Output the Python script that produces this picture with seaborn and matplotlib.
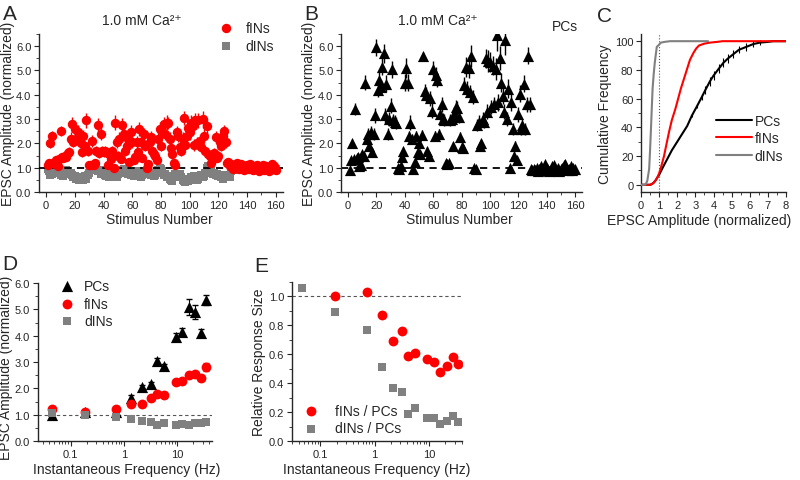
import matplotlib
matplotlib.use("Agg")
import matplotlib.pyplot as plt
import pandas as pd
import seaborn as sns
from matplotlib.ticker import MultipleLocator, LogLocator, NullFormatter

# ---------------- data ----------------
stim = list(range(1, 161))

fins_amp = [1.1, 1.2, 2.0, 2.3, 1.2, 1.15, 1.3, 1.05, 1.35, 2.5,
            1.45, 1.4, 1.5, 1.45, 1.6, 1.65, 2.2, 2.8, 2.05, 2.6,
            2.2, 2.45, 2.2, 2.0, 1.65, 2.3, 1.9, 2.95, 1.7, 1.1,
            1.1, 2.1, 1.1, 1.2, 1.7, 2.75, 1.6, 2.4, 1.7, 1.65,
            1.7, 1.65, 1.1, 1.55, 1.35, 1.7, 1.0, 2.85, 2.05, 1.5,
            2.2, 1.35, 2.75, 2.4, 1.7, 1.9, 2.2, 1.25, 2.45, 2.05,
            1.3, 1.45, 2.05, 1.65, 2.6, 2.05, 1.4, 2.4, 1.9, 1.0,
            1.15, 2.05, 2.25, 1.7, 1.55, 1.5, 1.3, 2.2, 2.6, 1.9,
            2.5, 2.8, 2.4, 2.85, 2.85, 2.2, 1.8, 1.55, 1.2, 1.1,
            2.45, 2.3, 1.85, 1.7, 2.2, 3.05, 1.95, 2.3, 2.65, 2.45,
            2.85, 2.7, 1.95, 2.95, 2.0, 2.95, 2.1, 1.85, 3.0, 2.3,
            1.7, 2.7, 1.55, 1.5, 1.2, 1.35, 1.6, 2.25, 1.4, 1.5,
            2.05, 1.9, 2.3, 2.5, 2.05, 1.2, 1.25, 1.05, 1.15, 0.95,
            1.1, 1.0, 1.2, 0.95, 1.05, 1.15, 1.0, 0.9, 1.05, 1.1,
            0.95, 1.15, 1.0, 0.9, 1.05, 0.95, 1.1, 0.85, 1.0, 0.95,
            1.1, 0.9, 1.05, 1.0, 0.85, 1.0, 1.15, 0.95, 1.05, 0.9]
fins_err = [0.1, 0.15, 0.2, 0.2, 0.15, 0.1, 0.15, 0.1, 0.15, 0.2,
            0.15, 0.15, 0.15, 0.15, 0.2, 0.2, 0.25, 0.3, 0.2, 0.25,
            0.25, 0.3, 0.25, 0.2, 0.2, 0.25, 0.2, 0.3, 0.2, 0.15,
            0.1, 0.25, 0.1, 0.15, 0.2, 0.3, 0.2, 0.25, 0.2, 0.2,
            0.2, 0.2, 0.1, 0.2, 0.15, 0.2, 0.1, 0.3, 0.25, 0.2,
            0.25, 0.15, 0.3, 0.25, 0.2, 0.2, 0.25, 0.15, 0.3, 0.25,
            0.15, 0.15, 0.25, 0.2, 0.3, 0.25, 0.15, 0.25, 0.2, 0.1,
            0.1, 0.2, 0.25, 0.2, 0.2, 0.2, 0.15, 0.25, 0.3, 0.2,
            0.25, 0.3, 0.25, 0.3, 0.25, 0.25, 0.2, 0.2, 0.15, 0.1,
            0.25, 0.25, 0.2, 0.2, 0.25, 0.3, 0.2, 0.3, 0.3, 0.3,
            0.3, 0.3, 0.25, 0.3, 0.25, 0.3, 0.25, 0.2, 0.35, 0.3,
            0.2, 0.3, 0.2, 0.2, 0.15, 0.15, 0.2, 0.25, 0.15, 0.2,
            0.25, 0.2, 0.25, 0.25, 0.25, 0.15, 0.15, 0.1, 0.1, 0.1,
            0.1, 0.08, 0.12, 0.1, 0.1, 0.12, 0.08, 0.1, 0.1, 0.12,
            0.1, 0.12, 0.08, 0.1, 0.1, 0.08, 0.12, 0.1, 0.1, 0.08,
            0.12, 0.1, 0.1, 0.08, 0.1, 0.1, 0.12, 0.08, 0.1, 0.1]

dins_amp = [0.95, 0.85, 0.7, 0.75, 0.9, 0.8, 0.85, 0.95, 0.8, 0.7,
            0.75, 0.65, 0.8, 0.9, 0.85, 0.75, 0.8, 0.7, 0.6, 0.65,
            0.55, 0.6, 0.5, 0.55, 0.6, 0.5, 0.65, 0.55, 0.7, 0.8,
            0.9, 1.05, 1.1, 0.95, 1.0, 0.85, 0.9, 0.75, 0.9, 0.8,
            0.7, 0.65, 0.75, 0.6, 0.7, 0.8, 0.65, 0.7, 0.6, 0.75,
            0.85, 0.9, 0.8, 0.95, 0.85, 0.9, 0.75, 0.8, 0.7, 0.75,
            0.65, 0.8, 0.7, 0.85, 0.75, 0.6, 0.7, 0.8, 0.75, 0.85,
            0.95, 0.8, 0.7, 0.75, 0.65, 0.7, 0.85, 0.9, 1.0, 0.95,
            0.8, 0.7, 0.75, 0.6, 0.65, 0.55, 0.5, 0.45, 0.6, 0.75,
            0.7, 0.65, 0.75, 0.6, 0.5, 0.45, 0.4, 0.55, 0.45, 0.5,
            0.6, 0.55, 0.65, 0.6, 0.5, 0.55, 0.6, 0.7, 0.6, 0.65,
            0.8, 1.0, 1.05, 0.95, 0.85, 0.75, 0.8, 0.7, 0.75, 0.65,
            0.7, 0.6, 0.55, 0.65, 0.6, 0.7, 0.65, 0.6, 0.85, 0.9,
            0.95, 0.9, 1.0, 0.95, 0.9, 1.0, 0.95, 0.9, 0.95, 1.0,
            0.9, 0.95, 1.0, 0.95, 0.9, 0.95, 1.0, 0.9, 0.95, 1.0,
            0.95, 0.9, 1.0, 0.95, 0.9, 0.95, 1.0, 0.95, 0.9, 0.95]
dins_err = [0.06, 0.08, 0.07, 0.06, 0.08, 0.07, 0.06, 0.08, 0.07, 0.06,
            0.07, 0.06, 0.08, 0.07, 0.06, 0.07, 0.08, 0.06, 0.07, 0.06,
            0.06, 0.07, 0.06, 0.06, 0.07, 0.06, 0.07, 0.06, 0.07, 0.08,
            0.08, 0.1, 0.1, 0.08, 0.09, 0.07, 0.08, 0.07, 0.08, 0.07,
            0.07, 0.06, 0.07, 0.06, 0.07, 0.08, 0.06, 0.07, 0.06, 0.07,
            0.08, 0.08, 0.07, 0.08, 0.07, 0.08, 0.07, 0.07, 0.06, 0.07,
            0.06, 0.07, 0.06, 0.08, 0.07, 0.06, 0.07, 0.07, 0.07, 0.08,
            0.08, 0.07, 0.06, 0.07, 0.06, 0.07, 0.08, 0.08, 0.09, 0.08,
            0.07, 0.06, 0.07, 0.06, 0.06, 0.06, 0.05, 0.05, 0.06, 0.07,
            0.07, 0.06, 0.07, 0.06, 0.05, 0.05, 0.05, 0.06, 0.05, 0.05,
            0.06, 0.05, 0.06, 0.06, 0.05, 0.06, 0.06, 0.07, 0.06, 0.06,
            0.07, 0.09, 0.1, 0.08, 0.08, 0.07, 0.07, 0.07, 0.07, 0.06,
            0.07, 0.06, 0.06, 0.06, 0.06, 0.07, 0.06, 0.06, 0.07, 0.08,
            0.06, 0.06, 0.07, 0.06, 0.06, 0.07, 0.06, 0.06, 0.06, 0.07,
            0.06, 0.06, 0.07, 0.06, 0.06, 0.06, 0.07, 0.06, 0.06, 0.07,
            0.06, 0.06, 0.07, 0.06, 0.06, 0.06, 0.07, 0.06, 0.06, 0.06]

pcs_amp = [0.9, 1.3, 2.0, 1.35, 3.4, 1.4, 1.45, 1.05, 1.1, 1.55,
           1.5, 4.5, 2.2, 2.4, 1.9, 2.45, 1.65, 2.4, 3.15, 5.95,
           4.2, 4.6, 4.3, 5.15, 5.7, 3.15, 4.45, 2.4, 3.0, 3.55,
           5.05, 2.95, 2.9, 2.85, 1.0, 0.95, 1.05, 1.45, 1.7, 4.5,
           5.1, 4.5, 2.3, 2.85, 2.2, 0.95, 1.25, 2.3, 1.65, 2.0,
           1.55, 2.35, 5.6, 4.15, 4.0, 1.7, 1.5, 3.85, 3.35, 5.05,
           2.3, 4.8, 4.6, 2.4, 3.2, 3.6, 3.0, 2.95, 1.2, 1.15,
           1.2, 2.95, 3.0, 1.9, 3.2, 3.5, 3.45, 3.1, 2.25, 1.85,
           1.8, 4.4, 5.15, 4.25, 5.1, 4.1, 5.6, 3.9, 1.0, 0.95,
           2.75, 2.9, 1.9, 2.0, 3.0, 2.9, 5.5, 3.3, 5.4, 5.35,
           3.5, 5.2, 3.6, 5.05, 6.45, 3.7, 5.5, 4.5, 3.95, 3.3,
           6.25, 3.0, 4.25, 1.0, 3.7, 2.6, 1.5, 1.9, 1.3, 3.2,
           4.05, 2.6, 2.75, 4.45, 2.6, 3.6, 5.6, 3.6, 0.95, 0.9,
           0.95, 0.9, 1.0, 0.85, 0.95, 1.05, 0.9, 1.0, 1.15, 1.0,
           0.9, 0.85, 0.95, 1.05, 1.1, 0.95, 0.9, 1.0, 0.85, 0.95,
           1.0, 1.1, 1.15, 1.0, 0.9, 0.95, 1.05, 0.9, 1.0, 0.95]
pcs_err = [0.08, 0.15, 0.2, 0.15, 0.25, 0.15, 0.15, 0.1, 0.1, 0.15,
           0.15, 0.3, 0.2, 0.25, 0.2, 0.25, 0.15, 0.25, 0.3, 0.35,
           0.3, 0.35, 0.3, 0.35, 0.4, 0.3, 0.35, 0.25, 0.3, 0.3,
           0.35, 0.25, 0.25, 0.25, 0.1, 0.1, 0.1, 0.15, 0.15, 0.35,
           0.4, 0.35, 0.2, 0.3, 0.2, 0.1, 0.1, 0.2, 0.15, 0.2,
           0.15, 0.2, 0.15, 0.3, 0.3, 0.15, 0.15, 0.3, 0.3, 0.35,
           0.2, 0.35, 0.3, 0.2, 0.25, 0.3, 0.25, 0.25, 0.1, 0.1,
           0.1, 0.25, 0.25, 0.15, 0.3, 0.3, 0.3, 0.25, 0.2, 0.15,
           0.15, 0.35, 0.4, 0.3, 0.4, 0.3, 0.45, 0.3, 0.1, 0.1,
           0.25, 0.25, 0.15, 0.2, 0.3, 0.25, 0.4, 0.3, 0.45, 0.4,
           0.3, 0.4, 0.3, 0.45, 0.65, 0.35, 0.5, 0.4, 0.35, 0.3,
           0.6, 0.3, 0.4, 0.1, 0.35, 0.25, 0.15, 0.2, 0.15, 0.3,
           0.35, 0.25, 0.25, 0.35, 0.25, 0.3, 0.35, 0.3, 0.1, 0.1,
           0.08, 0.08, 0.1, 0.08, 0.08, 0.1, 0.08, 0.1, 0.1, 0.08,
           0.08, 0.08, 0.1, 0.1, 0.1, 0.08, 0.08, 0.1, 0.08, 0.08,
           0.1, 0.1, 0.1, 0.08, 0.08, 0.08, 0.1, 0.08, 0.1, 0.08]

# cumulative distributions (panel C)
cum_pcs_x = [0, 0.5, 0.6, 0.7, 0.8, 0.9, 1.0, 1.2, 1.45, 1.7, 2.0, 2.3, 2.55, 2.8,
             3.1, 3.35, 3.55, 3.8, 4.0, 4.3, 4.55, 4.8, 5.1, 5.4, 5.8, 6.2, 6.55,
             7.0, 7.3, 7.6, 8.0]
cum_pcs_y = [0, 0, 0.5, 1.5, 3, 5, 7, 12, 18, 24, 30, 36, 41, 48,
             55, 61, 66, 72, 76, 81, 85, 88, 91, 94, 96, 98, 99,
             99.5, 100, 100, 100]
cum_pcs_err = [0, 0, 0, 0, 0, 0, 0, 0, 0, 0, 0, 0, 0, 1,
               1.5, 2, 2.5, 3, 3, 3, 3, 3, 3, 2.5, 2.5, 2, 1.5,
               0, 0, 0, 0]
cum_fins_x = [0, 0.5, 0.6, 0.7, 0.8, 0.9, 1.0, 1.1, 1.27, 1.4, 1.55, 1.7, 1.9, 2.05,
              2.2, 2.4, 2.55, 2.7, 2.9, 3.05, 3.2, 3.5, 3.8, 4.2, 4.5, 5, 6, 7, 8]
cum_fins_y = [0, 0, 0.5, 1.5, 3, 5, 8, 12, 20, 28, 37, 45, 53, 60,
              67, 75, 81, 87, 92, 95, 97, 98.3, 99, 99.5, 100, 100, 100, 100, 100]
cum_dins_x = [0, 0.2, 0.27, 0.35, 0.45, 0.5, 0.55, 0.6, 0.64, 0.7, 0.76, 0.82, 0.87,
              0.95, 1.1, 1.3, 1.6, 2.0, 3.0, 3.7]
cum_dins_y = [0, 0, 0.5, 3, 11, 24, 39, 55, 67, 77, 85, 91, 96,
              97, 99, 99.5, 100, 100, 100, 100]

# frequency dependence (panels D, E)
freq = [0.045, 0.19, 0.72, 1.35, 2.15, 3.2, 4.15, 5.6, 9.3, 12.2, 16.3, 21.5, 27.5, 34.5]
d_pcs = [1.0, 1.12, 1.1, 1.65, 2.05, 2.15, 3.05, 2.85, 3.95, 4.15, 5.1, 4.9, 4.1, 5.35]
d_pcs_err = [0.03, 0.05, 0.05, 0.08, 0.08, 0.08, 0.1, 0.08, 0.15, 0.15, 0.3, 0.25, 0.15, 0.2]
d_fins = [1.2, 1.12, 1.2, 1.42, 1.4, 1.63, 1.8, 1.75, 2.25, 2.28, 2.5, 2.55, 2.4, 2.82]
d_fins_err = [0.03, 0.03, 0.04, 0.05, 0.05, 0.05, 0.05, 0.05, 0.06, 0.06, 0.08, 0.08, 0.12, 0.15]
d_dins = [1.08, 1.0, 0.9, 0.85, 0.75, 0.72, 0.6, 0.67, 0.62, 0.65, 0.62, 0.68, 0.7, 0.72]
d_dins_err = [0.03, 0.03, 0.03, 0.03, 0.03, 0.03, 0.03, 0.03, 0.03, 0.03, 0.03, 0.03, 0.03, 0.03]

e_freq_fins = [0.19, 0.72, 1.35, 2.15, 3.2, 4.15, 5.6, 9.3, 12.2, 16.3, 21.5, 27.5, 34.5]
e_fins = [1.0, 1.03, 0.87, 0.69, 0.76, 0.59, 0.61, 0.57, 0.55, 0.48, 0.52, 0.58, 0.53]
e_dins = [1.06, 0.89, 0.77, 0.51, 0.37, 0.34, 0.19, 0.23, 0.16, 0.16, 0.12, 0.14, 0.17, 0.13]

RED = "#ff0000"
GRAY = "#808080"
BLACK = "#000000"

# ---------------- style ----------------
sns.set_style("ticks")
plt.rcParams["font.family"] = ["Liberation Sans", "DejaVu Sans"]
plt.rcParams["mathtext.default"] = "regular"
plt.rcParams["xtick.labelsize"] = 8
plt.rcParams["ytick.labelsize"] = 8
plt.rcParams["xtick.major.pad"] = 2
plt.rcParams["ytick.major.pad"] = 2
plt.rcParams["axes.labelsize"] = 10
plt.rcParams["xtick.major.size"] = 3.5
plt.rcParams["ytick.major.size"] = 3.5
plt.rcParams["xtick.minor.size"] = 2
plt.rcParams["ytick.minor.size"] = 2
plt.rcParams["axes.linewidth"] = 1.0

fig = plt.figure(figsize=(8, 4.81), dpi=100)
W, H = 800.0, 481.0


def add_ax(left, top, right, bottom):
    return fig.add_axes([left / W, 1 - bottom / H, (right - left) / W, (bottom - top) / H])


axA = add_ax(39, 35, 283, 193)
axB = add_ax(341, 35, 582, 193)
axC = add_ax(641, 35, 786, 193)
axD = add_ax(37.5, 284, 211.5, 442)
axE = add_ax(292, 283, 461.5, 442)

for ax in [axA, axB, axC, axD, axE]:
    sns.despine(ax=ax)

dfA = pd.DataFrame({"stim": stim, "fins": fins_amp, "fins_err": fins_err,
                    "dins": dins_amp, "dins_err": dins_err,
                    "pcs": pcs_amp, "pcs_err": pcs_err})

# ---------------- panel A ----------------
axA.errorbar(dfA["stim"], dfA["dins"], yerr=dfA["dins_err"], fmt="none",
             ecolor=GRAY, elinewidth=1, zorder=2)
sns.scatterplot(data=dfA, x="stim", y="dins", marker="s", s=32, color=GRAY,
                linewidth=0, ax=axA, zorder=3, label="dINs")
axA.axhline(1.0, color=BLACK, ls=(0, (4, 3)), lw=1.3, zorder=4)
axA.errorbar(dfA["stim"], dfA["fins"], yerr=dfA["fins_err"], fmt="none",
             ecolor=RED, elinewidth=1, zorder=5)
sns.scatterplot(data=dfA, x="stim", y="fins", marker="o", s=46, color=RED,
                linewidth=0, ax=axA, zorder=6, label="fINs")
h, l = axA.get_legend_handles_labels()
axA.legend(h[::-1], l[::-1], loc="upper right", bbox_to_anchor=(0.985, 1.12),
           frameon=False, fontsize=10, handletextpad=0.4, borderaxespad=0,
           labelspacing=0.3)
axA.set_xlim(-5, 165)
axA.set_ylim(0, 6.5)
axA.xaxis.set_major_locator(MultipleLocator(20))
axA.xaxis.set_minor_locator(MultipleLocator(10))
axA.yaxis.set_major_locator(MultipleLocator(1))
axA.yaxis.set_minor_locator(MultipleLocator(0.5))
axA.yaxis.set_major_formatter(lambda v, p: f"{v:.1f}")
axA.set_xlabel("Stimulus Number")
axA.set_ylabel("EPSC Amplitude (normalized)")
axA.xaxis.set_label_coords(0.494, -0.125)
axA.yaxis.set_label_coords(-0.1, 0.5)
axA.text(0.42, 1.09, "1.0 mM Ca²⁺", transform=axA.transAxes, ha="center",
         va="center", fontsize=10)

# ---------------- panel B ----------------
axB.errorbar(dfA["stim"], dfA["pcs"], yerr=dfA["pcs_err"], fmt="none",
             ecolor=BLACK, elinewidth=1, zorder=2)
axB.axhline(1.0, color=BLACK, ls=(0, (4, 3)), lw=1.3, zorder=1)
sns.scatterplot(data=dfA, x="stim", y="pcs", marker="^", s=65, color=BLACK,
                linewidth=0, ax=axB, zorder=3, legend=False)
axB.set_xlim(-5, 165)
axB.set_ylim(0, 6.5)
axB.xaxis.set_major_locator(MultipleLocator(20))
axB.xaxis.set_minor_locator(MultipleLocator(10))
axB.yaxis.set_major_locator(MultipleLocator(1))
axB.yaxis.set_minor_locator(MultipleLocator(0.5))
axB.yaxis.set_major_formatter(lambda v, p: f"{v:.1f}")
axB.set_xlabel("Stimulus Number")
axB.set_ylabel("EPSC Amplitude (normalized)")
axB.xaxis.set_label_coords(0.49, -0.125)
axB.yaxis.set_label_coords(-0.105, 0.5)
axB.text(0.40, 1.09, "1.0 mM Ca²⁺", transform=axB.transAxes, ha="center",
         va="center", fontsize=10)
axB.text(0.93, 1.05, "PCs", transform=axB.transAxes, ha="center",
         va="center", fontsize=10)

# ---------------- panel C ----------------
dfC = pd.concat([
    pd.DataFrame({"amp": cum_pcs_x, "freq": cum_pcs_y, "cell": "PCs"}),
    pd.DataFrame({"amp": cum_fins_x, "freq": cum_fins_y, "cell": "fINs"}),
    pd.DataFrame({"amp": cum_dins_x, "freq": cum_dins_y, "cell": "dINs"}),
])
axC.axvline(1.0, color="#555555", ls=":", lw=0.8, zorder=1)
axC.errorbar(cum_pcs_x, cum_pcs_y, yerr=cum_pcs_err, fmt="none", ecolor=BLACK,
             elinewidth=0.8, zorder=2)
sns.lineplot(data=dfC, x="amp", y="freq", hue="cell", sort=False,
             palette={"PCs": BLACK, "fINs": RED, "dINs": GRAY},
             linewidth=1.5, ax=axC, zorder=3)
axC.legend(loc="center right", bbox_to_anchor=(1.02, 0.34), frameon=False,
           fontsize=10, handlelength=2.6, handletextpad=0.2, labelspacing=0.25,
           borderaxespad=0)
axC.set_xlim(0, 8)
axC.set_ylim(-5, 105)
axC.xaxis.set_major_locator(MultipleLocator(1))
axC.xaxis.set_minor_locator(MultipleLocator(0.5))
axC.yaxis.set_major_locator(MultipleLocator(20))
axC.yaxis.set_minor_locator(MultipleLocator(10))
axC.set_xlabel("EPSC Amplitude (normalized)")
axC.set_ylabel("Cumulative Frequency")
axC.xaxis.set_label_coords(0.4, -0.13)
axC.yaxis.set_label_coords(-0.2, 0.5)

# ---------------- panel D ----------------
axD.axhline(1.0, color="#555555", ls=(0, (3, 2.5)), lw=0.8, zorder=1)
dfD = pd.DataFrame({"freq": freq, "pcs": d_pcs, "fins": d_fins, "dins": d_dins})
axD.errorbar(freq, d_pcs, yerr=d_pcs_err, fmt="none", ecolor=BLACK,
             elinewidth=0.8, capsize=2, zorder=2)
sns.scatterplot(data=dfD, x="freq", y="pcs", marker="^", s=65, color=BLACK,
                linewidth=0, ax=axD, zorder=3, label="PCs")
axD.errorbar(freq, d_fins, yerr=d_fins_err, fmt="none", ecolor=RED,
             elinewidth=0.8, capsize=2, zorder=4)
sns.scatterplot(data=dfD, x="freq", y="fins", marker="o", s=50, color=RED,
                linewidth=0, ax=axD, zorder=5, label="fINs")
axD.errorbar(freq, d_dins, yerr=d_dins_err, fmt="none", ecolor=GRAY,
             elinewidth=0.8, capsize=2, zorder=6)
sns.scatterplot(data=dfD, x="freq", y="dins", marker="s", s=40, color=GRAY,
                linewidth=0, ax=axD, zorder=7, label="dINs")
axD.legend(loc="upper left", bbox_to_anchor=(0.06, 1.06), frameon=False,
           fontsize=10, handletextpad=0.2, labelspacing=0.25, borderaxespad=0)
axD.set_xscale("log")
axD.set_xlim(0.024, 44)
axD.set_ylim(0, 6)
axD.set_xticks([0.1, 1, 10])
axD.set_xticklabels(["0.1", "1", "10"])
axD.xaxis.set_minor_locator(LogLocator(base=10, subs=range(2, 10)))
axD.xaxis.set_minor_formatter(NullFormatter())
axD.yaxis.set_major_locator(MultipleLocator(1))
axD.yaxis.set_minor_locator(MultipleLocator(0.5))
axD.yaxis.set_major_formatter(lambda v, p: f"{v:.1f}")
axD.set_xlabel("Instantaneous Frequency (Hz)")
axD.set_ylabel("EPSC Amplitude (normalized)")
axD.xaxis.set_label_coords(0.51, -0.13)
axD.yaxis.set_label_coords(-0.14, 0.47)

# ---------------- panel E ----------------
axE.axhline(1.0, color="#555555", ls=(0, (3, 2.5)), lw=0.8, zorder=1)
dfE1 = pd.DataFrame({"freq": e_freq_fins, "ratio": e_fins})
dfE2 = pd.DataFrame({"freq": freq, "ratio": e_dins})
sns.scatterplot(data=dfE1, x="freq", y="ratio", marker="o", s=50, color=RED,
                linewidth=0, ax=axE, zorder=3, label="fINs / PCs")
sns.scatterplot(data=dfE2, x="freq", y="ratio", marker="s", s=40, color=GRAY,
                linewidth=0, ax=axE, zorder=3, label="dINs / PCs")
axE.legend(loc="lower left", bbox_to_anchor=(0.0, 0.0), frameon=False,
           fontsize=10, handletextpad=0.7, labelspacing=0.25, borderaxespad=0)
axE.set_xscale("log")
axE.set_xlim(0.03, 40)
axE.set_ylim(0, 1.1)
axE.set_xticks([0.1, 1, 10])
axE.set_xticklabels(["0.1", "1", "10"])
axE.xaxis.set_minor_locator(LogLocator(base=10, subs=range(2, 10)))
axE.xaxis.set_minor_formatter(NullFormatter())
axE.yaxis.set_major_locator(MultipleLocator(0.2))
axE.yaxis.set_minor_locator(MultipleLocator(0.1))
axE.yaxis.set_major_formatter(lambda v, p: f"{v:.1f}")
axE.set_xlabel("Instantaneous Frequency (Hz)")
axE.set_ylabel("Relative Response Size")
axE.xaxis.set_label_coords(0.5, -0.13)
axE.yaxis.set_label_coords(-0.155, 0.5)

# panel letters
for letter, px, py in [("A", 10, 14), ("B", 311, 14), ("C", 605, 17),
                       ("D", 10, 265), ("E", 261, 267)]:
    fig.text(px / W, 1 - py / H, letter, fontsize=15, ha="center", va="center")

fig.savefig("out.png", dpi=100)
